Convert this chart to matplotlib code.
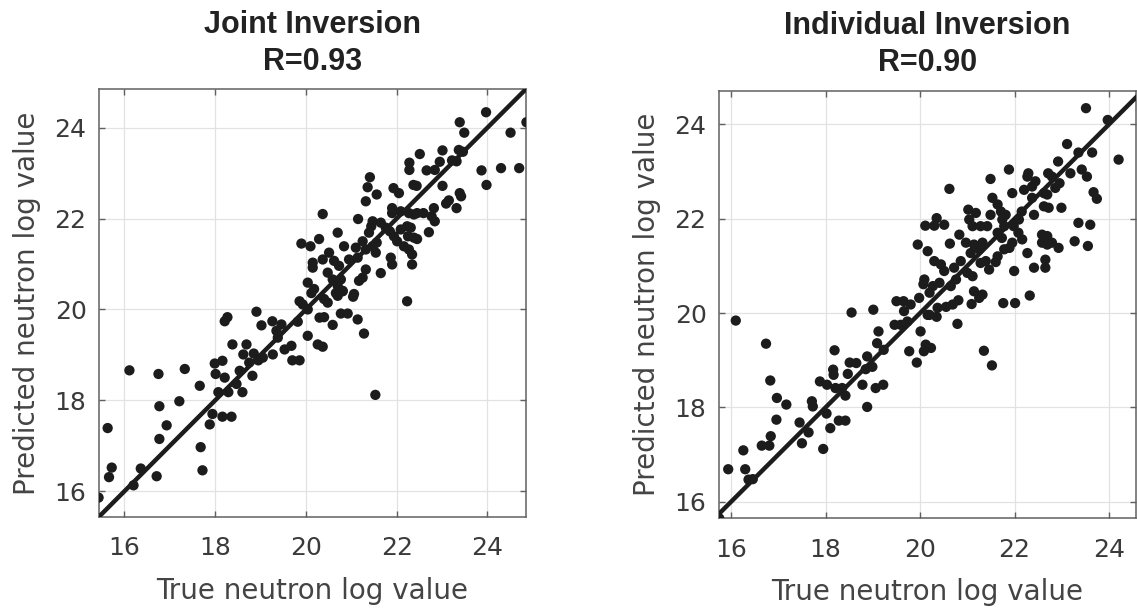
import matplotlib.pyplot as plt
import numpy as np

plt.rcParams['font.family'] = ['DejaVu Sans']

# Joint inversion (left panel)
joint_true = [
    23.97, 24.86, 23.39, 23.49, 24.51, 22.51, 23.01, 23.37, 23.46, 22.28,
    22.28, 22.95, 23.22, 23.32, 22.66, 22.84, 23.87, 24.30, 24.70, 23.98,
    21.41, 21.36, 21.56, 21.32, 21.93, 22.05, 22.37, 22.44, 23.01, 23.09,
    23.15, 23.39, 23.42, 23.32, 22.82, 22.77, 22.59, 22.45, 22.38, 22.27,
    21.90, 21.90, 22.09, 22.84, 22.71, 20.37, 21.15, 21.44, 21.47, 21.39,
    21.65, 21.76, 21.85, 21.94, 22.09, 22.23, 22.25, 22.38, 22.45, 22.31,
    20.70, 20.29, 20.10, 20.84, 21.10, 21.25, 21.32, 21.47, 21.54, 21.56,
    22.01, 22.16, 22.27, 22.34, 21.87, 21.90, 22.34, 20.51, 20.37, 20.15,
    20.15, 20.62, 20.73, 20.95, 21.14, 21.32, 21.25, 21.17, 21.65, 20.48,
    20.59, 20.77, 20.70, 20.81, 20.04, 20.18, 21.06, 20.40, 20.70, 19.90,
    15.43, 15.63, 15.66, 15.72, 16.11, 16.20, 16.36, 16.71, 16.75, 16.77,
    16.77, 16.93, 17.21, 17.33, 17.66, 17.68, 17.72, 17.88, 17.94, 17.99,
    18.01, 18.07, 18.16, 18.16, 18.21, 18.21, 18.27, 18.29, 18.36, 18.38,
    18.47, 18.54, 18.60, 18.62, 18.69, 18.75, 18.82, 18.85, 18.91, 18.95,
    19.02, 19.05, 19.26, 19.27, 19.35, 19.38, 19.46, 19.53, 19.68, 19.70,
    19.86, 19.82, 19.86, 20.04, 20.04, 20.12, 20.26, 20.30,
    20.66, 20.81, 21.04, 20.48, 19.93, 20.40, 20.59, 20.77, 20.92, 21.14,
    21.28, 20.37, 21.53, 22.23,
]
joint_pred = [
    24.34, 24.12, 24.12, 23.89, 23.89, 23.42, 23.50, 23.51, 23.47, 23.23,
    23.07, 23.25, 23.28, 23.26, 23.06, 23.07, 23.06, 23.11, 23.11, 22.74,
    22.91, 22.69, 22.53, 22.38, 22.67, 22.56, 22.74, 22.72, 22.72, 22.33,
    22.40, 22.56, 22.49, 22.23, 22.23, 22.05, 22.12, 22.12, 22.09, 22.12,
    22.23, 22.12, 22.16, 21.94, 21.70, 22.10, 21.99, 21.83, 21.94, 21.69,
    21.91, 21.80, 21.72, 21.61, 21.76, 21.83, 21.61, 21.58, 21.55, 21.80,
    21.69, 21.55, 21.39, 21.39, 21.36, 21.50, 21.32, 21.39, 21.25, 21.47,
    21.50, 21.39, 21.32, 21.21, 21.14, 20.99, 20.99, 21.25, 21.10, 21.03,
    20.92, 21.07, 20.96, 21.10, 21.14, 20.88, 20.70, 20.63, 20.80, 20.81,
    20.66, 20.66, 20.52, 20.41, 20.59, 20.45, 20.34, 20.23, 20.30, 21.45,
    15.86, 17.39, 16.31, 16.52, 18.66, 16.13, 16.50, 16.33, 18.58, 17.87,
    17.15, 17.45, 17.98, 18.69, 18.32, 16.97, 16.46, 17.47, 17.70, 18.81,
    18.58, 18.18, 18.87, 17.64, 18.50, 19.74, 19.83, 18.18, 17.64, 19.23,
    18.36, 18.65, 18.18, 19.01, 19.23, 18.83, 18.54, 19.03, 19.95, 18.88,
    19.65, 18.94, 19.74, 19.01, 19.53, 19.38, 19.67, 19.12, 19.20, 18.88,
    18.88, 19.73, 20.18, 19.42, 20.00, 20.36, 19.23, 19.82,
    20.36, 20.40, 20.28, 20.15, 20.11, 19.83, 19.66, 19.91, 19.91, 19.78,
    19.47, 19.18, 18.12, 20.18,
]

# Individual inversion (right panel)
indiv_true = [
    23.51, 23.97, 24.20, 23.11, 23.35, 23.64, 22.92, 23.18, 23.42, 23.53,
    21.88, 22.29, 22.27, 22.71, 22.79, 21.49, 20.62, 22.44, 22.95, 22.37,
    22.20, 21.95, 22.86, 22.62, 23.67, 23.74, 21.53, 21.64, 22.69, 22.62,
    22.72, 22.99, 22.37, 22.15, 22.41, 21.02, 21.18, 21.49, 21.71, 21.81,
    21.74, 20.35, 20.11, 20.30, 20.51, 21.04, 21.11, 21.28, 21.42, 21.78,
    21.98, 22.09, 23.35, 23.60, 20.83, 21.64, 21.73, 22.08, 22.16, 21.95,
    22.58, 22.69, 22.58, 22.69, 22.79, 22.93, 23.27, 23.55, 19.95, 20.63,
    20.97, 21.14, 21.25, 21.32, 20.16, 21.78, 21.89, 22.27, 21.07, 20.30,
    20.44, 20.86, 21.64, 21.60, 21.39, 22.65, 22.65, 22.41, 21.99, 21.46,
    21.28, 20.51, 20.72, 21.00, 21.11, 20.09, 20.07, 20.41, 20.27, 20.76,
    20.65, 20.20, 21.25,
    22.32, 22.01, 21.76, 21.32, 21.14, 21.09, 20.81, 20.69, 20.55, 20.37,
    20.35, 20.20, 20.79, 20.23, 21.35, 21.52,
    15.75, 16.10, 16.74, 16.83, 16.97, 17.17, 16.96, 16.84, 16.65, 16.81,
    16.26, 15.94, 16.30, 16.37, 16.46, 17.45, 17.50, 17.64, 17.71, 17.73,
    17.95, 18.02, 17.88, 18.10, 18.28, 18.42, 18.19, 18.16, 18.17, 18.03,
    18.21, 18.35, 18.42, 18.47, 18.55, 18.51, 18.65, 18.78, 18.88, 18.85,
    18.88, 18.99, 19.01, 19.06, 19.22, 19.09, 19.12, 19.23, 19.50, 19.65,
    19.66, 19.80, 19.46, 19.59, 19.73, 19.77, 19.93, 20.01, 20.12, 20.08,
    19.98, 20.16,
]
indiv_pred = [
    24.34, 24.09, 23.25, 23.58, 23.40, 23.40, 23.21, 22.96, 23.04, 22.89,
    23.04, 22.96, 22.89, 22.96, 22.89, 22.84, 22.63, 22.79, 22.75, 22.68,
    22.61, 22.54, 22.65, 22.54, 22.56, 22.42, 22.44, 22.30, 22.51, 22.26,
    22.23, 22.23, 22.44, 22.15, 22.08, 22.19, 22.12, 22.08, 22.15, 22.08,
    21.98, 22.01, 21.85, 21.85, 21.87, 21.98, 21.84, 21.84, 21.84, 21.84,
    21.84, 21.98, 21.91, 21.87, 21.66, 21.70, 21.59, 21.70, 21.56, 21.49,
    21.66, 21.63, 21.49, 21.45, 21.49, 21.38, 21.52, 21.42, 21.45, 21.47,
    21.49, 21.45, 21.35, 21.49, 21.31, 21.35, 21.38, 21.27, 21.27, 21.10,
    21.03, 21.10, 21.20, 21.08, 21.10, 21.13, 20.96, 20.96, 20.89, 20.92,
    21.06, 20.89, 20.96, 20.85, 20.78, 20.71, 20.61, 20.64, 20.57, 20.71,
    20.57, 20.43, 20.32,
    20.37, 20.21, 20.21, 20.39, 20.46, 20.19, 20.27, 20.18, 20.13, 20.11,
    19.92, 19.96, 19.77, 19.26, 19.20, 18.89,
    15.65, 19.84, 19.35, 18.57, 18.20, 18.06, 17.74, 17.39, 17.19, 17.19,
    17.09, 16.69, 16.69, 16.47, 16.48, 17.68, 17.24, 17.47, 18.13, 18.02,
    17.12, 17.87, 18.55, 17.56, 17.72, 17.72, 19.21, 18.80, 18.69, 18.48,
    18.41, 18.41, 18.25, 18.71, 20.01, 18.95, 18.94, 18.48, 18.01, 18.81,
    19.08, 18.86, 20.07, 18.41, 18.48, 19.36, 19.61, 19.22, 20.25, 20.25,
    20.04, 20.18, 19.75, 19.75, 19.82, 19.19, 18.95, 19.61, 19.33, 19.19,
    20.32, 19.96,
]

titles = ['Joint Inversion\nR=0.93', 'Individual Inversion\nR=0.90']
ticks = [16, 18, 20, 22, 24]

fig = plt.figure(figsize=(11.37, 6.10), dpi=100)
ax1 = fig.add_axes([0.0871, 0.153, 0.3755, 0.701])
ax2 = fig.add_axes([0.6324, 0.1503, 0.3668, 0.701])

panels = [
    (ax1, joint_true, joint_pred, (15.44, 24.85), (15.44, 24.85)),
    (ax2, indiv_true, indiv_pred, (15.746, 24.57), (15.65, 24.71)),
]

for (ax, xt, yp, xl, yl), title in zip(panels, titles):
    ax.scatter(xt, yp, s=55, color='#1c1c1c', edgecolors='none', zorder=3)
    lo = min(xl[0], yl[0])
    hi = max(xl[1], yl[1])
    ax.plot([lo, hi], [lo, hi], color='#1c1c1c', lw=3.2, zorder=4,
            solid_capstyle='round')
    ax.set_xlim(xl)
    ax.set_ylim(yl)
    ax.set_xticks(ticks)
    ax.set_yticks(ticks)
    ax.grid(True, color='#e2e2e2', lw=0.9)
    ax.set_axisbelow(True)
    for sp in ax.spines.values():
        sp.set_color('#606060')
        sp.set_linewidth(1.1)
    ax.tick_params(direction='in', length=4, width=1, color='#606060',
                   top=True, right=True, labelsize=18, labelcolor='#3a3a3a')
    ax.tick_params(axis='x', pad=14)
    ax.tick_params(axis='y', pad=9)
    ax.set_xlabel('True neutron log value', fontsize=20, color='#444444',
                  labelpad=12)
    ax.set_ylabel('Predicted neutron log value', fontsize=20,
                  color='#444444', labelpad=10)
    ax.set_title(title, fontsize=22, fontweight='bold', color='#222222',
                 family=['Liberation Sans', 'DejaVu Sans'],
                 pad=14, linespacing=1.3)

fig.savefig('out.png', dpi=100)
